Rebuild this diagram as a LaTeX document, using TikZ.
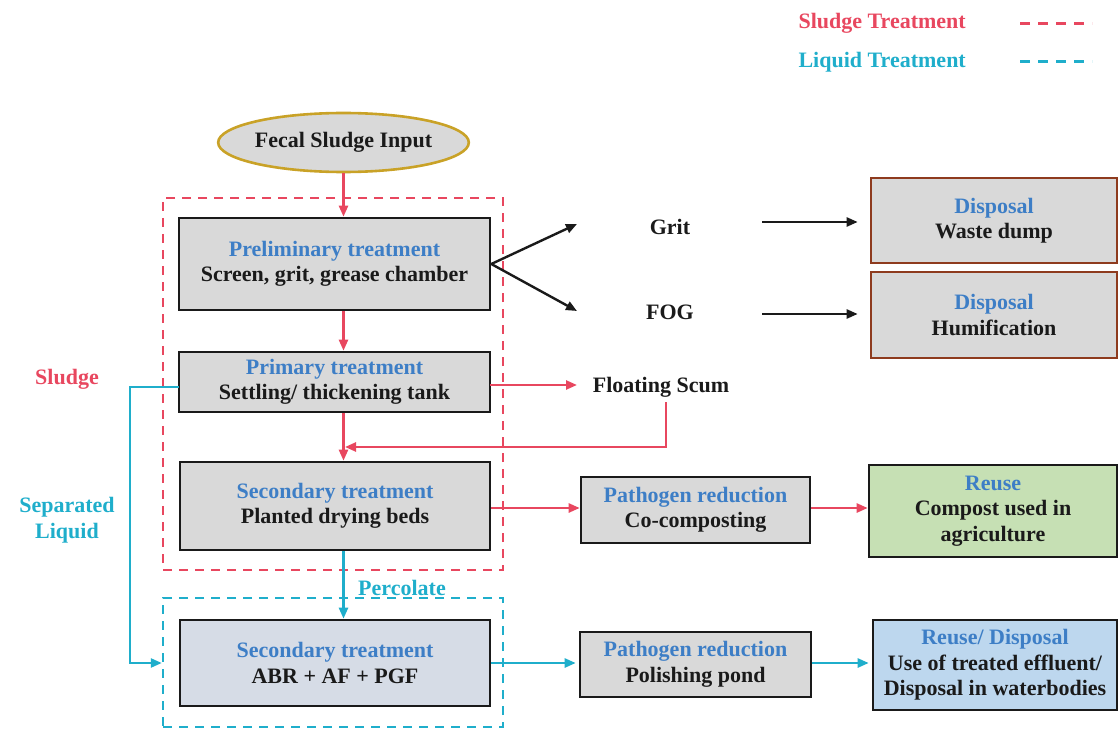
\documentclass[tikz,border=0pt]{standalone}
\usepackage{fontspec}
\setmainfont{Liberation Serif}
\usetikzlibrary{arrows.meta,shapes.geometric}
\definecolor{sred}{HTML}{E8475F}
\definecolor{lcyan}{HTML}{1FAECB}
\definecolor{tblue}{HTML}{3D7EC6}
\definecolor{boxgray}{HTML}{D9D9D9}
\definecolor{boxblue}{HTML}{D6DCE6}
\definecolor{reusegreen}{HTML}{C6E0B4}
\definecolor{reuseblue}{HTML}{BDD7EE}
\definecolor{goldline}{HTML}{C9A227}
\definecolor{brownline}{HTML}{8E3B1E}
\definecolor{ink}{HTML}{1A1A1A}
\newcommand\ttl[1]{\textcolor{tblue}{#1}}
\tikzset{
  every node/.style={font=\bfseries\fontsize{22}{25.5}\selectfont, text=ink},
  box/.style={draw=ink, line width=2.6pt, fill=boxgray, align=center, inner sep=0pt},
  dispbox/.style={box, draw=brownline},
  redarrow/.style={draw=sred, line width=2.4pt, -{Triangle[length=11pt,width=9pt]}},
  cyanarrow/.style={draw=lcyan, line width=2.4pt, -{Triangle[length=11pt,width=9pt]}},
  blackarrow/.style={draw=ink, line width=2.4pt, -{Triangle[length=11pt,width=9pt]}},
  sdash/.style={draw=sred, line width=2.4pt, dash pattern=on 9pt off 7pt},
  ldash/.style={draw=lcyan, line width=2.4pt, dash pattern=on 9pt off 7pt},
  legdash/.style={line width=3pt, dash pattern=on 10pt off 8pt},
}
\begin{document}
\begin{tikzpicture}[x=1pt,y=-1pt]
\useasboundingbox (0,0) rectangle (1119,730);
% legend
\node[anchor=west, text=sred] (legS) at (795,23) {Sludge Treatment};
\node[anchor=west, text=lcyan] (legL) at (795,62) {Liquid Treatment};
\coordinate (legSa) at (1020,24); \coordinate (legSb) at (1092,24);
\coordinate (legLa) at (1020,62); \coordinate (legLb) at (1092,62);
\draw[sdash, legdash] (legSa) -- (legSb);
\draw[ldash, legdash] (legLa) -- (legLb);
% dashed group boxes
\node[sdash, minimum width=340pt, minimum height=372pt, inner sep=0pt] (sgroup) at (333,384) {};
\node[ldash, minimum width=340pt, minimum height=129pt, inner sep=0pt] (lgroup) at (333,662.5) {};
% input
\node[ellipse, draw=goldline, line width=2.6pt, fill=boxgray, minimum width=227pt, minimum height=59pt, inner sep=0pt] (input) at (343.5,142.5) {Fecal Sludge Input};
% main column
\node[box, minimum width=311pt, minimum height=92pt] (prelim) at (334.5,264) {\ttl{Preliminary treatment}\\Screen, grit, grease chamber};
\node[box, minimum width=311pt, minimum height=60pt] (primary) at (334.5,382) {\ttl{Primary treatment}\\Settling/ thickening tank};
\node[box, minimum width=310pt, minimum height=88pt] (secS) at (335,506) {\ttl{Secondary treatment}\\Planted drying beds};
\node[box, fill=boxblue, minimum width=310pt, minimum height=86pt] (secL) at (335,663) {\ttl{Secondary treatment}\\ABR + AF + PGF};
% right column
\node (grit) at (670,227) {Grit};
\node (fog) at (670,312) {FOG};
\node[dispbox, minimum width=246pt, minimum height=85pt] (disp1) at (994,220.5) {\ttl{Disposal}\\Waste dump};
\node[dispbox, minimum width=246pt, minimum height=86pt] (disp2) at (994,315) {\ttl{Disposal}\\Humification};
\node (scum) at (661,387) {Floating Scum};
\node[box, minimum width=229pt, minimum height=66pt] (path1) at (695.5,510) {\ttl{Pathogen reduction}\\Co-composting};
\node[box, fill=reusegreen, minimum width=248pt, minimum height=92pt] (reuse) at (993,511) {\ttl{Reuse}\\Compost used in\\agriculture};
\node[box, minimum width=231pt, minimum height=65pt] (path2) at (695.5,664.5) {\ttl{Pathogen reduction}\\Polishing pond};
\node[box, fill=reuseblue, minimum width=244pt, minimum height=90pt] (reuse2) at (995,665) {\ttl{Reuse/ Disposal}\\Use of treated effluent/\\Disposal in waterbodies};
% side labels
\node[text=sred] (sludgelbl) at (67,379) {Sludge};
\node[text=lcyan, align=center] (seplbl) at (67,520) {Separated\\Liquid};
\node[text=lcyan] (perc) at (402,588) {Percolate};
% coordinates
\coordinate (gritEnd) at (577,224);
\coordinate (fogEnd) at (577,311);
\coordinate (gritStart) at (762,222);
\coordinate (fogStart) at (762,314);
\coordinate (scumEnd) at (577,385);
\coordinate (pStart) at (490,385);
\coordinate (scumDown) at (666,402);
\coordinate (scumCorner) at (666,447);
\coordinate (mergePt) at (343,447);
\coordinate (sepStart) at (179,387);
\coordinate (sepTop) at (130,387);
\coordinate (sepBot) at (130,663);
% connectors
\draw[redarrow] (input.south) -- (input.south |- prelim.north);
\draw[redarrow] (input.south |- prelim.south) -- (input.south |- primary.north);
\draw[redarrow] (input.south |- primary.south) -- (input.south |- secS.north);
\draw[blackarrow] (prelim.east) -- (gritEnd);
\draw[blackarrow] (prelim.east) -- (fogEnd);
\draw[blackarrow] (gritStart) -- ([xshift=-12pt]gritStart -| disp1.west);
\draw[blackarrow] (fogStart) -- ([xshift=-12pt]fogStart -| disp2.west);
\draw[redarrow] (pStart) -- (scumEnd);
\draw[redarrow] (scumDown) -- (scumCorner) -- ([xshift=2pt]mergePt);
\draw[redarrow] (secS.east |- 0,508) -- (path1.west |- 0,508);
\draw[redarrow] (path1.east |- 0,508) -- (reuse.west |- 0,508);
\draw[cyanarrow] (input.south |- secS.south) -- (input.south |- secL.north);
\draw[cyanarrow] (sepStart) -- (sepTop) -- (sepBot) -- (sepBot -| lgroup.west);
\draw[cyanarrow] (secL.east |- 0,663) -- ([xshift=-3pt]path2.west |- 0,663);
\draw[cyanarrow] (path2.east |- 0,663) -- ([xshift=-3pt]reuse2.west |- 0,663);
\end{tikzpicture}
\end{document}
